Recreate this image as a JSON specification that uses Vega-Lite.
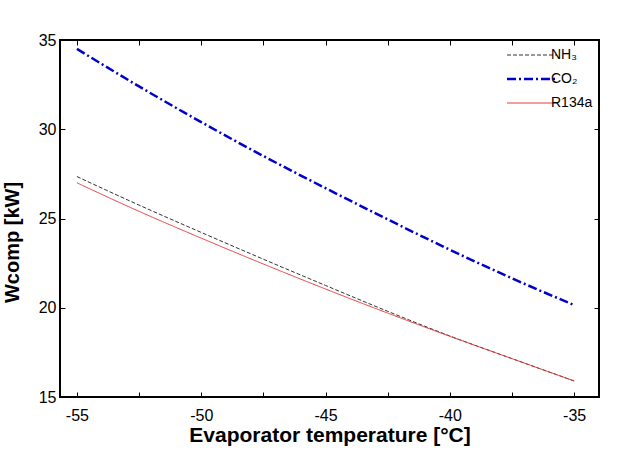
{
  "$schema": "https://vega.github.io/schema/vega-lite/v6.json",
  "width": 539,
  "height": 357,
  "autosize": "none",
  "padding": {"left": 60, "top": 40, "right": 41, "bottom": 54},
  "data": {
    "values": [
      {"fluid": "NH₃", "T": -55, "W": 27.35},
      {"fluid": "NH₃", "T": -52.5, "W": 25.75},
      {"fluid": "NH₃", "T": -50, "W": 24.22},
      {"fluid": "NH₃", "T": -47.5, "W": 22.72},
      {"fluid": "NH₃", "T": -45, "W": 21.25},
      {"fluid": "NH₃", "T": -42.5, "W": 19.8},
      {"fluid": "NH₃", "T": -40, "W": 18.42},
      {"fluid": "NH₃", "T": -37.5, "W": 17.15},
      {"fluid": "NH₃", "T": -35, "W": 15.9},
      {"fluid": "CO₂", "T": -55, "W": 34.5},
      {"fluid": "CO₂", "T": -52.5, "W": 32.4},
      {"fluid": "CO₂", "T": -50, "W": 30.4},
      {"fluid": "CO₂", "T": -47.5, "W": 28.5},
      {"fluid": "CO₂", "T": -45, "W": 26.7},
      {"fluid": "CO₂", "T": -42.5, "W": 24.95},
      {"fluid": "CO₂", "T": -40, "W": 23.25},
      {"fluid": "CO₂", "T": -37.5, "W": 21.65},
      {"fluid": "CO₂", "T": -35, "W": 20.15},
      {"fluid": "R134a", "T": -55, "W": 27.0},
      {"fluid": "R134a", "T": -52.5, "W": 25.4},
      {"fluid": "R134a", "T": -50, "W": 23.9},
      {"fluid": "R134a", "T": -47.5, "W": 22.45},
      {"fluid": "R134a", "T": -45, "W": 21.05},
      {"fluid": "R134a", "T": -42.5, "W": 19.7},
      {"fluid": "R134a", "T": -40, "W": 18.4},
      {"fluid": "R134a", "T": -37.5, "W": 17.15},
      {"fluid": "R134a", "T": -35, "W": 15.9}
    ]
  },
  "layer": [
    {
      "mark": {"type": "line", "interpolate": "monotone"},
      "encoding": {
        "x": {
          "field": "T", "type": "quantitative",
          "scale": {"domain": [-55.68, -34.0], "nice": false, "zero": false},
          "title": "Evaporator temperature [°C]",
          "axis": {
            "orient": "bottom",
            "values": [-55, -52.5, -50, -47.5, -45, -42.5, -40, -37.5, -35],
            "labelExpr": "datum.value % 5 == 0 ? replace(datum.label, '−', '-') : ''",
            "grid": false, "domain": false,
            "tickSize": -5, "tickColor": "#000", "tickWidth": 1,
            "labelFontSize": 16, "labelPadding": 15,
            "titleFontSize": 21, "titleFontWeight": "bold", "titlePadding": 1
          }
        },
        "y": {
          "field": "W", "type": "quantitative",
          "scale": {"domain": [15, 35], "nice": false, "zero": false},
          "title": "Wcomp [kW]",
          "axis": {
            "orient": "left",
            "values": [15, 20, 25, 30, 35],
            "grid": false, "domain": false,
            "tickSize": -5, "tickColor": "#000", "tickWidth": 1,
            "labelFontSize": 16, "labelPadding": 9,
            "titleFontSize": 20, "titleFontWeight": "bold", "titlePadding": 16,
            "titleY": 202
          }
        },
        "color": {
          "field": "fluid", "type": "nominal",
          "scale": {"domain": ["NH₃", "CO₂", "R134a"], "range": ["#333333", "#0000cc", "#e8383d"]},
          "legend": {
            "title": null,
            "orient": "none",
            "legendX": 465,
            "legendY": 8,
            "padding": 0,
            "symbolType": "stroke",
            "symbolSize": 2500,
            "labelFontSize": 14,
            "labelOffset": 12,
            "rowPadding": 10,
            "encode": {
              "symbols": {"update": {"strokeWidth": {"signal": "datum.value === 'CO₂' ? 2.5 : 1"}}}
            }
          }
        },
        "strokeDash": {
          "field": "fluid", "type": "nominal",
          "scale": {"domain": ["NH₃", "CO₂", "R134a"], "range": [[4, 2], [9, 3, 2, 3], [1, 0]]},
          "legend": {"title": null}
        },
        "strokeWidth": {
          "condition": {"test": "datum.fluid === 'CO₂'", "value": 2.5},
          "value": 1
        }
      }
    },
    {
      "mark": {"type": "point", "opacity": 0},
      "encoding": {
        "x": {
          "field": "T", "type": "quantitative",
          "axis": {
            "orient": "top", "title": null, "labels": false,
            "values": [-55, -52.5, -50, -47.5, -45, -42.5, -40, -37.5, -35],
            "grid": false, "domain": false,
            "tickSize": -5, "tickColor": "#000", "tickWidth": 1
          }
        },
        "y": {
          "field": "W", "type": "quantitative",
          "axis": {
            "orient": "right", "title": null, "labels": false,
            "values": [15, 20, 25, 30, 35],
            "grid": false, "domain": false,
            "tickSize": -5, "tickColor": "#000", "tickWidth": 1
          }
        }
      }
    }
  ],
  "config": {
    "font": "Liberation Sans",
    "view": {"stroke": "#000", "strokeWidth": 2},
    "axis": {"labelColor": "#000", "titleColor": "#000"},
    "legend": {"labelColor": "#000", "labelFont": "Liberation Sans"}
  }
}
